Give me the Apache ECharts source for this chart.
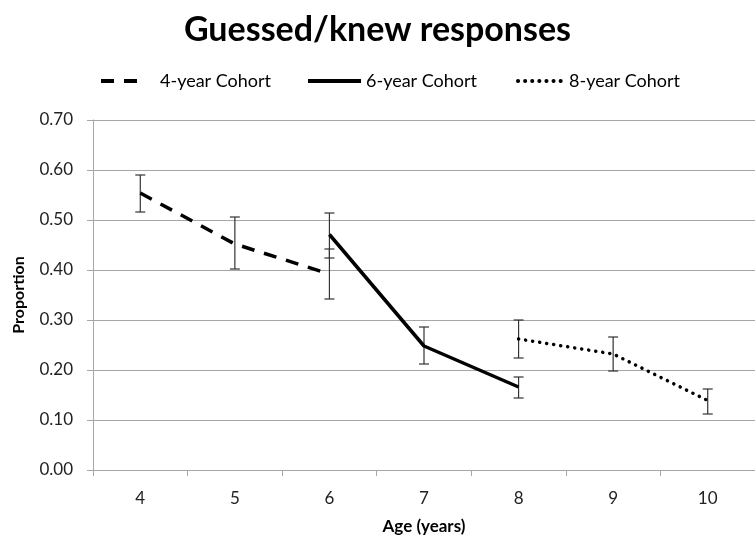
<!DOCTYPE html>
<html>
<head>
<meta charset="utf-8">
<script src="https://cdn.jsdelivr.net/npm/echarts@6/dist/echarts.min.js"></script>
<style>html,body{margin:0;padding:0;background:#fff;}#c{width:755px;height:544px;}</style>
</head>
<body>
<div id="c"></div>
<script>
var categories = ['4', '5', '6', '7', '8', '9', '10'];
var fourYear = [0.554, 0.452, 0.392, null, null, null, null];
var sixYear = [null, null, 0.471, 0.248, 0.166, null, null];
var eightYear = [null, null, null, null, 0.262, 0.232, 0.139];
// error bars: [categoryIndex, low, high]
var fourYearErr = [[0, 0.516, 0.590], [1, 0.402, 0.506], [2, 0.342, 0.442]];
var sixYearErr = [[2, 0.424, 0.514], [3, 0.212, 0.286], [4, 0.144, 0.186]];
var eightYearErr = [[4, 0.224, 0.300], [5, 0.198, 0.266], [6, 0.112, 0.162]];
var yTicks = [0, 0.1, 0.2, 0.3, 0.4, 0.5, 0.6, 0.7];
var seriesNames = ['4-year Cohort', '6-year Cohort', '8-year Cohort'];

var FONT = 'Lato';
var chart = echarts.init(document.getElementById('c'), null, {renderer: 'canvas'});

function errRender(params, api) {
  var x = api.value(0);
  var lo = api.coord([x, api.value(1)]);
  var hi = api.coord([x, api.value(2)]);
  var w = 5;
  var st = {stroke: '#333', lineWidth: 1.2};
  return {
    type: 'group',
    children: [
      {type: 'line', shape: {x1: lo[0], y1: lo[1], x2: hi[0], y2: hi[1]}, style: st},
      {type: 'line', shape: {x1: lo[0] - w, y1: lo[1], x2: lo[0] + w, y2: lo[1]}, style: st},
      {type: 'line', shape: {x1: hi[0] - w, y1: hi[1], x2: hi[0] + w, y2: hi[1]}, style: st}
    ]
  };
}
function errSeries(d) {
  return {type: 'custom', renderItem: errRender, data: d, encode: {x: 0, y: [1, 2]}, z: 3, silent: true};
}
function legendFor(name, left, w, padLeft) {
  return {
    top: 67, left: left,
    itemWidth: w, itemHeight: 14, itemGap: 0,
    itemStyle: {opacity: 0},
    lineStyle: {width: 4},
    textStyle: {fontFamily: FONT, fontSize: 18, color: '#000', padding: [0, 0, 0, padLeft]},
    data: [name]
  };
}

chart.setOption({
  animation: false,
  backgroundColor: '#fff',
  title: {
    text: 'Guessed/knew responses',
    left: 'center', top: 8,
    textStyle: {fontFamily: FONT, fontWeight: 'bold', fontSize: 34, color: '#000'}
  },
  legend: [
    legendFor(seriesNames[0], 94, 42, 12),
    legendFor(seriesNames[1], 301, 53, 0),
    legendFor(seriesNames[2], 511, 46, 0)
  ],
  grid: {left: 93, top: 120, width: 672, height: 350, containLabel: false},
  xAxis: {
    type: 'category',
    data: categories,
    boundaryGap: true,
    name: 'Age (years)',
    nameLocation: 'middle',
    nameGap: 48,
    nameTextStyle: {fontFamily: FONT, fontWeight: 'bold', fontSize: 17, color: '#000'},
    axisLine: {lineStyle: {color: '#a6a6a6', width: 1}},
    axisTick: {show: true, length: 6, lineStyle: {color: '#a6a6a6'}},
    axisLabel: {fontFamily: FONT, fontSize: 17, color: '#222', margin: 20}
  },
  yAxis: {
    type: 'value',
    min: yTicks[0], max: yTicks[yTicks.length - 1], interval: 0.1,
    name: 'Proportion',
    nameLocation: 'middle',
    nameGap: 66,
    nameTextStyle: {fontFamily: FONT, fontWeight: 'bold', fontSize: 16, color: '#000'},
    axisLine: {show: true, lineStyle: {color: '#a6a6a6', width: 1}},
    axisTick: {show: true, length: 6, lineStyle: {color: '#a6a6a6'}},
    splitLine: {lineStyle: {color: '#a6a6a6', width: 1}},
    axisLabel: {fontFamily: FONT, fontSize: 17, color: '#222', margin: 20,
      formatter: function (v) { return v.toFixed(2); }}
  },
  series: [
    {name: seriesNames[0], type: 'line', data: fourYear, symbol: 'none', connectNulls: false,
      lineStyle: {color: '#000', width: 3.5, type: [13, 10]}, itemStyle: {color: '#000'}, z: 4},
    {name: seriesNames[1], type: 'line', data: sixYear, symbol: 'none',
      lineStyle: {color: '#000', width: 3.5, type: 'solid'}, itemStyle: {color: '#000'}, z: 4},
    {name: seriesNames[2], type: 'line', data: eightYear, symbol: 'none',
      lineStyle: {color: '#000', width: 3.5, type: [0.1, 7], cap: 'round'}, itemStyle: {color: '#000'}, z: 4},
    errSeries(fourYearErr),
    errSeries(sixYearErr),
    errSeries(eightYearErr)
  ]
});
</script>
</body>
</html>
